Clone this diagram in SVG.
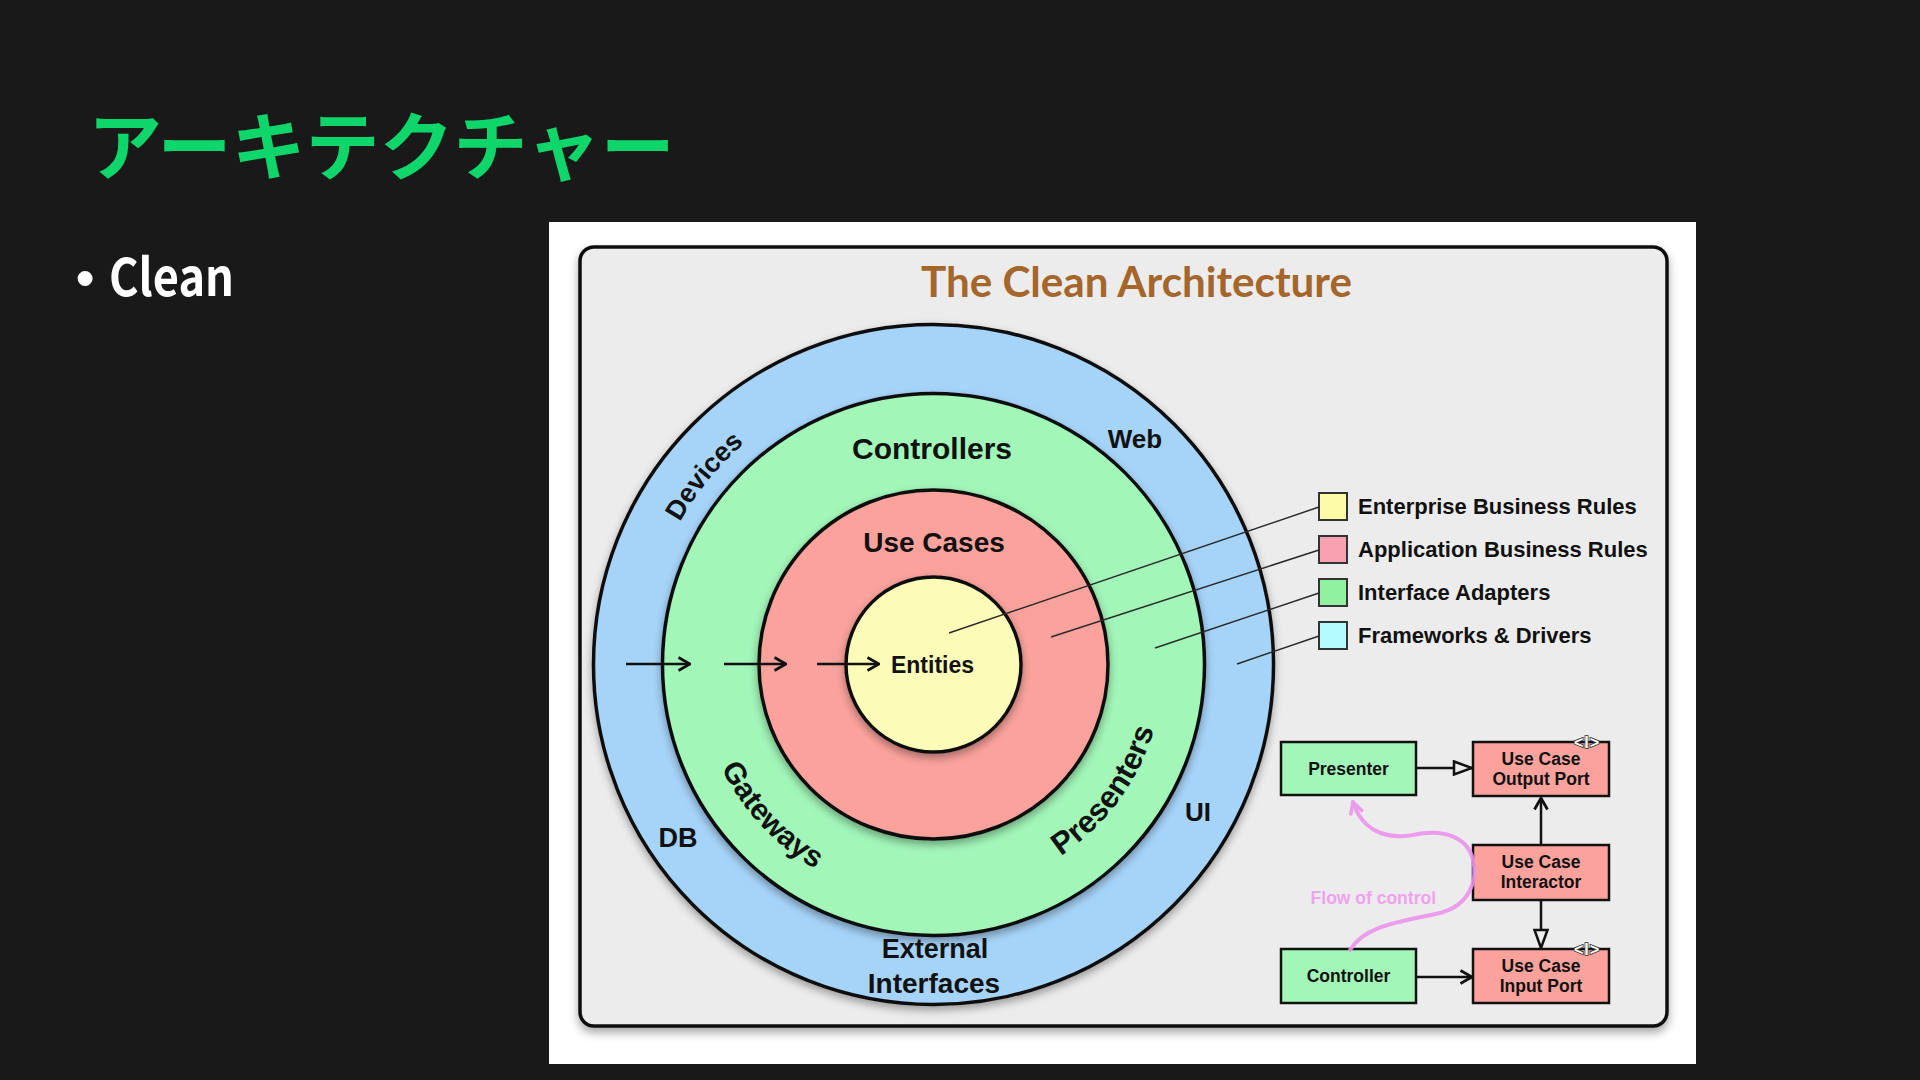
<svg xmlns="http://www.w3.org/2000/svg" width="1920" height="1080" viewBox="0 0 1920 1080">
  <style>
    .lbl { font-family: "Liberation Sans", Arial, sans-serif; font-weight: bold; fill: #111; }
    .ring { stroke: #111; stroke-width: 3.5; filter: url(#sh); }
    .box { stroke: #111; stroke-width: 2.5; }
    .leg { stroke: #333; stroke-width: 2; }
    .lead { stroke: #2a2a2a; stroke-width: 1.5; fill: none; }
    .conn { stroke: #111; stroke-width: 2.5; fill: none; }
    .btxt { font-family: "Liberation Sans", Arial, sans-serif; font-weight: bold; font-size: 17.5px; fill: #111; text-anchor: middle; }
    .tag { font-family: "Liberation Sans", Arial, sans-serif; font-weight: bold; font-size: 16px; fill: #ffffff; stroke: #333; stroke-width: 1.6; paint-order: stroke; text-anchor: middle; letter-spacing: 1px; }
  </style>
  <defs>
    <filter id="sh" x="-15%" y="-15%" width="130%" height="135%">
      <feDropShadow dx="0" dy="4" stdDeviation="4" flood-color="#000" flood-opacity="0.35"/>
    </filter>
    <filter id="shp" x="-5%" y="-5%" width="110%" height="112%">
      <feDropShadow dx="0" dy="5" stdDeviation="5" flood-color="#000" flood-opacity="0.35"/>
    </filter>
    <marker id="openArrow" viewBox="0 0 14 16" refX="13" refY="8" markerWidth="14" markerHeight="16" markerUnits="userSpaceOnUse" orient="auto">
      <path d="M1.5,1.5 L13,8 L1.5,14.5" fill="none" stroke="#111" stroke-width="2.8"/>
    </marker>
    <marker id="hollowTri" viewBox="0 0 22 16" refX="20" refY="8" markerWidth="22" markerHeight="16" markerUnits="userSpaceOnUse" orient="auto">
      <path d="M2,1.5 L20,8 L2,14.5 Z" fill="#ececec" stroke="#111" stroke-width="2.5"/>
    </marker>
    <marker id="pinkArrow" viewBox="0 0 16 16" refX="14" refY="8" markerWidth="16" markerHeight="16" markerUnits="userSpaceOnUse" orient="auto">
      <path d="M2,1.5 L14,8 L2,14.5" fill="none" stroke="#eb94ec" stroke-width="3.5" stroke-linejoin="round"/>
    </marker>
    <path id="pDevices" d="M642.5,664.5 A291,291 0 0 1 1224.5,664.5 A291,291 0 0 1 642.5,664.5"/>
    <path id="pGateways" d="M697.5,664.5 A236,236 0 0 0 1169.5,664.5"/>
    <path id="pPresenters" d="M703.5,664.5 A230,230 0 0 0 1163.5,664.5"/>
  </defs>

  <rect width="1920" height="1080" fill="#191919"/>

  <g id="slide-title">
    <text x="88" y="174" font-family="Noto Sans CJK JP, sans-serif" font-weight="bold" font-size="74" fill="#0fd66b">アーキテクチャー</text>
  </g>
  <g id="bullet">
    <text font-weight="bold" fill="#ffffff">
      <tspan x="76" y="296" font-family="Liberation Sans, sans-serif" font-size="52">•</tspan>
      <tspan x="109" y="296" font-family="Noto Sans CJK JP, sans-serif" font-size="52" textLength="125" lengthAdjust="spacingAndGlyphs">Clean</tspan>
    </text>
  </g>

  <g id="panel">
    <rect x="549" y="222" width="1147" height="842" fill="#ffffff"/>
    <rect x="580" y="247" width="1087" height="779" rx="14" fill="#ececec" stroke="#111" stroke-width="3.5" filter="url(#shp)"/>
    <text x="921" y="297" font-family="Lato, 'Open Sans', sans-serif" font-weight="bold" font-size="42" fill="#a5662b" textLength="431" lengthAdjust="spacingAndGlyphs">The Clean Architecture</text>
  </g>

  <g id="rings">
    <circle id="frameworks-drivers" cx="933.5" cy="664.5" r="340" fill="#a6d4f9" class="ring"/>
    <circle id="interface-adapters" cx="933.5" cy="664.5" r="271" fill="#a2f6b8" class="ring"/>
    <circle id="application-rules" cx="933.5" cy="664.5" r="174.5" fill="#fba29c" class="ring"/>
    <circle id="entities" cx="933.5" cy="664.5" r="87.5" fill="#fdfbb8" class="ring"/>
  </g>

  <g id="ring-labels">
    <text class="lbl" font-size="27"><textPath href="#pDevices" startOffset="200" text-anchor="middle">Devices</textPath></text>
    <text class="lbl" font-size="30"><textPath href="#pGateways" startOffset="177" text-anchor="middle">Gateways</textPath></text>
    <text class="lbl" font-size="31"><textPath href="#pPresenters" startOffset="576" text-anchor="middle">Presenters</textPath></text>
    <text class="lbl" x="932" y="459" font-size="30" text-anchor="middle">Controllers</text>
    <text class="lbl" x="934" y="552" font-size="28" text-anchor="middle">Use Cases</text>
    <text class="lbl" x="932.5" y="673" font-size="23" text-anchor="middle">Entities</text>
    <text class="lbl" x="1135" y="448" font-size="26" text-anchor="middle">Web</text>
    <text class="lbl" x="1198" y="821" font-size="26" text-anchor="middle">UI</text>
    <text class="lbl" x="678" y="847" font-size="27" text-anchor="middle">DB</text>
    <text class="lbl" x="935" y="958" font-size="27" text-anchor="middle">External</text>
    <text class="lbl" x="934" y="993" font-size="28" text-anchor="middle">Interfaces</text>
  </g>

  <g id="legend">
    <rect x="1319" y="493" width="28" height="27" fill="#fcfca6" class="leg"/>
    <rect x="1319" y="536" width="28" height="27" fill="#f8a1b1" class="leg"/>
    <rect x="1319" y="579" width="28" height="27" fill="#90f2a0" class="leg"/>
    <rect x="1319" y="622" width="28" height="27" fill="#b3fbfc" class="leg"/>
    <text class="lbl" x="1358" y="514" font-size="22">Enterprise Business Rules</text>
    <text class="lbl" x="1358" y="557" font-size="22">Application Business Rules</text>
    <text class="lbl" x="1358" y="600" font-size="22">Interface Adapters</text>
    <text class="lbl" x="1358" y="643" font-size="22">Frameworks &amp; Drivers</text>
  </g>

  <g id="flow-nodes">
    <g id="presenter">
      <rect x="1281" y="742" width="135" height="53" fill="#a2f6b8" class="box"/>
      <text class="btxt" x="1348.5" y="775">Presenter</text>
    </g>
    <g id="output-port">
      <rect x="1473" y="742" width="136" height="54" fill="#fba29c" class="box"/>
      <text class="btxt" x="1541" y="765">Use Case</text>
      <text class="btxt" x="1541" y="785">Output Port</text>
      <text class="tag" x="1587" y="748">&lt;I&gt;</text>
    </g>
    <g id="interactor">
      <rect x="1473" y="845" width="136" height="55" fill="#fba29c" class="box"/>
      <text class="btxt" x="1541" y="868">Use Case</text>
      <text class="btxt" x="1541" y="888">Interactor</text>
    </g>
    <g id="controller">
      <rect x="1281" y="949" width="135" height="54" fill="#a2f6b8" class="box"/>
      <text class="btxt" x="1348.5" y="982">Controller</text>
    </g>
    <g id="input-port">
      <rect x="1473" y="949" width="136" height="54" fill="#fba29c" class="box"/>
      <text class="btxt" x="1541" y="972">Use Case</text>
      <text class="btxt" x="1541" y="992">Input Port</text>
      <text class="tag" x="1587" y="955">&lt;I&gt;</text>
    </g>
  </g>

  <g id="connectors">
    <line class="conn" x1="626" y1="664" x2="690" y2="664" marker-end="url(#openArrow)"/>
    <line class="conn" x1="724" y1="664" x2="786" y2="664" marker-end="url(#openArrow)"/>
    <line class="conn" x1="817" y1="664" x2="879" y2="664" marker-end="url(#openArrow)"/>
    <line class="lead" x1="1319" y1="507" x2="949" y2="633"/>
    <line class="lead" x1="1319" y1="550" x2="1051" y2="637"/>
    <line class="lead" x1="1319" y1="593" x2="1155" y2="648"/>
    <line class="lead" x1="1319" y1="636" x2="1237" y2="664"/>
    <line class="conn" x1="1416" y1="768" x2="1472" y2="768" marker-end="url(#hollowTri)"/>
    <line class="conn" x1="1541" y1="845" x2="1541" y2="798" marker-end="url(#openArrow)"/>
    <line class="conn" x1="1541" y1="900" x2="1541" y2="948" marker-end="url(#hollowTri)"/>
    <line class="conn" x1="1416" y1="977" x2="1472" y2="977" marker-end="url(#openArrow)"/>
    <path d="M1350,950 C1365,925 1400,922 1440,913 C1470,905 1478,880 1473,860 C1468,838 1445,828 1413,835 C1385,840 1362,830 1353,802" fill="none" stroke="#eb94ec" stroke-width="4" stroke-linecap="round" opacity="0.9" marker-end="url(#pinkArrow)"/>
    <text x="1436" y="904" font-family="Liberation Sans, sans-serif" font-weight="bold" font-size="17.5" fill="#f0a2f0" text-anchor="end">Flow of control</text>
  </g>
</svg>
